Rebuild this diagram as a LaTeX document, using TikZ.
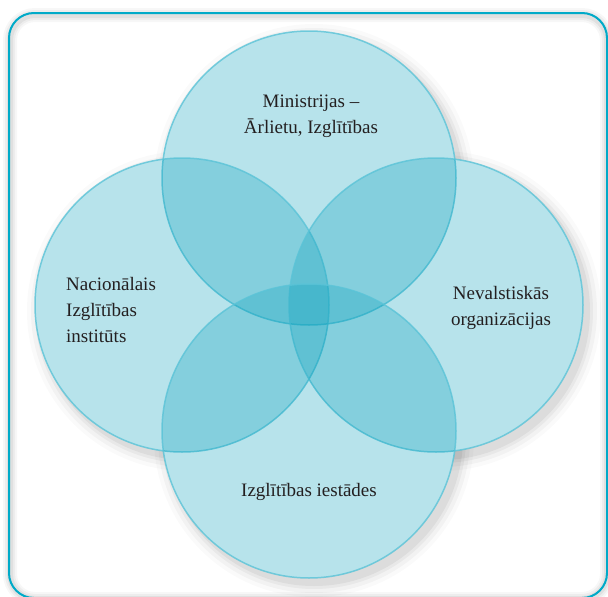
\documentclass[tikz,border=0pt]{standalone}
\usepackage{fontspec}
\setmainfont{Liberation Serif}
\definecolor{frame}{RGB}{0,170,200}
\definecolor{cfill}{RGB}{10,160,188}
\definecolor{cedge}{RGB}{90,195,215}
\definecolor{txt}{RGB}{35,31,32}
\tikzset{
  venn/.style={fill=cfill, fill opacity=0.29, draw=cedge, line width=1.5pt, draw opacity=0.8},
  lbl/.style={text=txt, font=\fontsize{19}{26}\selectfont, inner sep=0pt},
}
\begin{document}
\begin{tikzpicture}[x=1pt,y=-1pt]
\useasboundingbox (0,0) rectangle (608,597);
\fill[white] (0,0) rectangle (608,597);
% frame shadow
\foreach \w/\o in {14/0.03,10/0.04,6/0.05} {
  \draw[line width=\w pt, black, opacity=\o, rounded corners=25pt] (10,15) rectangle (607,599);
}
\draw[line width=2pt, frame, rounded corners=25pt] (9,13) rectangle (607,598);
% circle centres
\coordinate (T) at (309,178);
\coordinate (B) at (309,431);
\coordinate (L) at (182,305);
\coordinate (R) at (436,305);
% shadows
\foreach \c in {T,B,L,R} {
  \foreach \r/\o in {160/0.02,156/0.03,152/0.04,149/0.05} {
    \fill[black, opacity=\o] ([shift={(5,6)}]\c) circle (\r);
  }
}
% white base
\foreach \c in {T,B,L,R} { \fill[white] (\c) circle (147); }
% venn circles
\foreach \c in {T,L,R,B} { \path[venn] (\c) circle (147); }
% labels
\node[lbl, align=center] (tl) at (311,116) {Ministrijas –\\Ārlietu, Izglītības};
\node[lbl, align=left, anchor=west] (ll) at (66,310) {Nacionālais\\Izglītības\\institūts};
\node[lbl, align=center] (rl) at (501,308) {Nevalstiskās\\organizācijas};
\node[lbl] (bl) at (309,492) {Izglītības iestādes};
\end{tikzpicture}
\end{document}
